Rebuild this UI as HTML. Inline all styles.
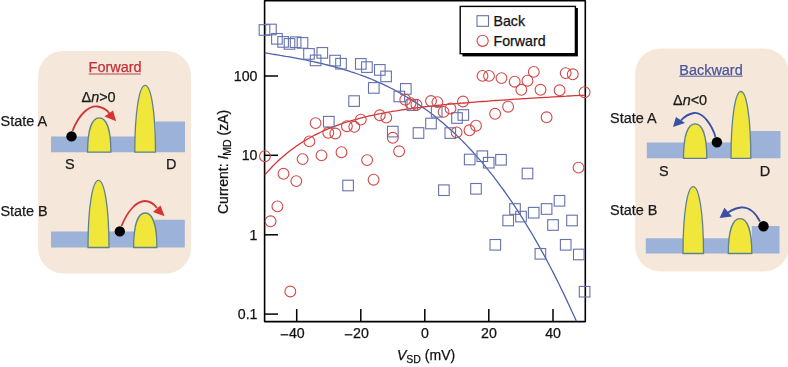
<!DOCTYPE html>
<html><head><meta charset="utf-8"><style>
html,body{margin:0;padding:0;background:#fff;width:788px;height:367px;overflow:hidden}
svg{display:block;filter:blur(0.3px)}
text{font-family:"Liberation Sans", sans-serif}
</style></head><body>
<svg width="788" height="367" viewBox="0 0 788 367">
<rect x="38.2" y="50.9" width="152.8" height="222.5" rx="25" ry="25" fill="#f5e7d9"/><rect x="635.2" y="48.5" width="153.8" height="223" rx="25" ry="25" fill="#f5e7d9"/><path d="M51,152.2 L51,136.4 L155.5,136.4 L155.5,121.4 L185,121.4 L185,152.2 Z" fill="#9cb2d8"/><path d="M87.6,152.2 C87.60,129.56 92.03,117.90 99.25,117.90 C106.47,117.90 110.90,129.56 110.9,152.2 Z" fill="#f1e63a" stroke="#5f8291" stroke-width="1.3"/><path d="M134.8,152.2 C134.80,110.78 139.46,85.40 145.15,85.40 C150.84,85.40 155.50,110.78 155.5,152.2 Z" fill="#f1e63a" stroke="#5f8291" stroke-width="1.3"/><path d="M51,247.5 L51,231.4 L154.5,231.4 L154.5,219.8 L184.8,219.8 L184.8,247.5 Z" fill="#9cb2d8"/><path d="M88.0,247.5 C88.00,205.84 92.72,180.30 98.50,180.30 C104.28,180.30 109.00,205.84 109.0,247.5 Z" fill="#f1e63a" stroke="#5f8291" stroke-width="1.3"/><path d="M133.6,247.5 C133.60,224.73 138.03,213.00 145.25,213.00 C152.47,213.00 156.90,224.73 156.9,247.5 Z" fill="#f1e63a" stroke="#5f8291" stroke-width="1.3"/><path d="M646.8,158.3 L646.8,142.6 L750.8,142.6 L750.8,131 L780.5,131 L780.5,158.3 Z" fill="#9cb2d8"/><path d="M683.5,158.3 C683.50,135.53 687.93,123.80 695.15,123.80 C702.37,123.80 706.80,135.53 706.8,158.3 Z" fill="#f1e63a" stroke="#5f8291" stroke-width="1.3"/><path d="M731.0,158.3 C731.00,116.88 735.46,91.50 740.90,91.50 C746.34,91.50 750.80,116.88 750.8,158.3 Z" fill="#f1e63a" stroke="#5f8291" stroke-width="1.3"/><path d="M645.8,253.5 L645.8,238.2 L751.8,238.2 L751.8,226 L779.5,226 L779.5,253.5 Z" fill="#9cb2d8"/><path d="M683.0,253.5 C683.00,212.02 687.61,186.60 693.25,186.60 C698.89,186.60 703.50,212.02 703.5,253.5 Z" fill="#f1e63a" stroke="#5f8291" stroke-width="1.3"/><path d="M728.3,253.5 C728.30,230.47 732.76,218.60 740.05,218.60 C747.33,218.60 751.80,230.47 751.8,253.5 Z" fill="#f1e63a" stroke="#5f8291" stroke-width="1.3"/><circle cx="71.5" cy="136.4" r="5.2" fill="#000"/><circle cx="119.8" cy="231.4" r="5.2" fill="#000"/><circle cx="716.9" cy="142.2" r="5.2" fill="#000"/><circle cx="763.5" cy="226.2" r="5.2" fill="#000"/><path d="M72.5,131 C79,114 89,105.5 97.5,106.5 C102.5,107.2 107,110 109.5,113.5" fill="none" stroke="#d43434" stroke-width="1.8"/><polygon points="104.5,116.5 113,110.5 116.2,121.2" fill="#d43434"/><path d="M121.5,226 C128,210 137,201 145,201 C150,201 154,204 157,208" fill="none" stroke="#d43434" stroke-width="1.8"/><polygon points="153,212 160.5,205.5 164.6,216.2" fill="#d43434"/><path d="M715.5,137 C712,125 703,112 694,113 C688,114 684,117 681,120.5" fill="none" stroke="#3b50a4" stroke-width="1.8"/><polygon points="676,117 685,123 673,127" fill="#3b50a4"/><path d="M760,221.5 C755,212 748,207 741,207.5 C736,208 732,210 728,212.5" fill="none" stroke="#3b50a4" stroke-width="1.8"/><polygon points="724.4,207.8 732,216.4 719.6,218" fill="#3b50a4"/>
<text x="0.6" y="126.2" font-size="14.45" fill="#1a1a1a" stroke="#1a1a1a" stroke-width="0.25" >State A</text><text x="0.4" y="216.2" font-size="14.45" fill="#1a1a1a" stroke="#1a1a1a" stroke-width="0.25" >State B</text><text x="65.0" y="169.2" font-size="14.45" fill="#1a1a1a" stroke="#1a1a1a" stroke-width="0.25" >S</text><text x="166.0" y="169.2" font-size="14.45" fill="#1a1a1a" stroke="#1a1a1a" stroke-width="0.25" >D</text><text x="88.6" y="72.0" font-size="14.45" fill="#c4303a" stroke="#c4303a" stroke-width="0.25" >Forward</text><line x1="88.6" y1="74.0" x2="140.8" y2="74.0" stroke="#b84850" stroke-width="1.1"/><text x="81.5" y="102.3" font-size="14.45" fill="#1a1a1a" stroke="#1a1a1a" stroke-width="0.25" >Δ<tspan font-style="italic">n</tspan>&gt;0</text><text x="610.0" y="122.9" font-size="14.45" fill="#1a1a1a" stroke="#1a1a1a" stroke-width="0.25" >State A</text><text x="610.0" y="214.5" font-size="14.45" fill="#1a1a1a" stroke="#1a1a1a" stroke-width="0.25" >State B</text><text x="659.0" y="175.6" font-size="14.45" fill="#1a1a1a" stroke="#1a1a1a" stroke-width="0.25" >S</text><text x="759.8" y="175.6" font-size="14.45" fill="#1a1a1a" stroke="#1a1a1a" stroke-width="0.25" >D</text><text x="679.3" y="74.6" font-size="14.45" fill="#4a559e" stroke="#4a559e" stroke-width="0.25" >Backward</text><line x1="679.3" y1="76.2" x2="742.6" y2="76.2" stroke="#5d6498" stroke-width="1.1"/><text x="673" y="104.6" font-size="14.45" fill="#1a1a1a" stroke="#1a1a1a" stroke-width="0.25" >Δ<tspan font-style="italic">n</tspan>&lt;0</text>
<path d="M264.6,0.8 L585.3,0.8 L585.3,321.6 L264.6,321.6 Z" fill="none" stroke="#000" stroke-width="1.6" stroke-linejoin="round"/><line x1="264.5" y1="76.0" x2="278" y2="76.0" stroke="#000" stroke-width="1.5"/><line x1="264.5" y1="155.3" x2="278" y2="155.3" stroke="#000" stroke-width="1.5"/><line x1="264.5" y1="234.8" x2="278" y2="234.8" stroke="#000" stroke-width="1.5"/><line x1="264.5" y1="314.1" x2="278" y2="314.1" stroke="#000" stroke-width="1.5"/><line x1="296.7" y1="321.4" x2="296.7" y2="309" stroke="#000" stroke-width="1.5"/><line x1="360.8" y1="321.4" x2="360.8" y2="309" stroke="#000" stroke-width="1.5"/><line x1="424.8" y1="321.4" x2="424.8" y2="309" stroke="#000" stroke-width="1.5"/><line x1="488.8" y1="321.4" x2="488.8" y2="309" stroke="#000" stroke-width="1.5"/><line x1="553.0" y1="321.4" x2="553.0" y2="309" stroke="#000" stroke-width="1.5"/><text x="257.5" y="80.8" font-size="14.2" text-anchor="end" fill="#111" stroke="#111" stroke-width="0.25">100</text><text x="257.5" y="160.10000000000002" font-size="14.2" text-anchor="end" fill="#111" stroke="#111" stroke-width="0.25">10</text><text x="257.5" y="239.60000000000002" font-size="14.2" text-anchor="end" fill="#111" stroke="#111" stroke-width="0.25">1</text><text x="257.5" y="318.90000000000003" font-size="14.2" text-anchor="end" fill="#111" stroke="#111" stroke-width="0.25">0.1</text><text x="296.8" y="338.4" font-size="14.2" text-anchor="middle" fill="#111" stroke="#111" stroke-width="0.25">40</text><text x="360.90000000000003" y="338.4" font-size="14.2" text-anchor="middle" fill="#111" stroke="#111" stroke-width="0.25">20</text><text x="424.90000000000003" y="338.4" font-size="14.2" text-anchor="middle" fill="#111" stroke="#111" stroke-width="0.25">0</text><text x="488.90000000000003" y="338.4" font-size="14.2" text-anchor="middle" fill="#111" stroke="#111" stroke-width="0.25">20</text><text x="553.1" y="338.4" font-size="14.2" text-anchor="middle" fill="#111" stroke="#111" stroke-width="0.25">40</text><line x1="280.59999999999997" y1="334.8" x2="288.3" y2="334.8" stroke="#111" stroke-width="1.3"/><line x1="344.7" y1="334.8" x2="352.40000000000003" y2="334.8" stroke="#111" stroke-width="1.3"/><text x="397" y="360" font-size="14" fill="#111" stroke="#111" stroke-width="0.25"><tspan font-style="italic">V</tspan><tspan font-size="10.5" dy="3">SD</tspan><tspan dy="-3"> (mV)</tspan></text><text transform="translate(228,214) rotate(-90)" font-size="14" fill="#111" stroke="#111" stroke-width="0.25">Current: <tspan font-style="italic">I</tspan><tspan font-size="10.5" dy="3">MD</tspan><tspan dy="-3"> (zA)</tspan></text><svg x="0" y="0" width="788" height="367"><clipPath id="cp"><rect x="264.5" y="0.8" width="320.8" height="320.2"/></clipPath></svg><polyline points="264.5,52.8 267.1,53.2 269.8,53.6 272.4,54.1 275.0,54.5 277.6,54.9 280.3,55.4 282.9,55.8 285.5,56.3 288.1,56.7 290.8,57.2 293.4,57.7 296.0,58.2 298.6,58.7 301.3,59.2 303.9,59.7 306.5,60.2 309.1,60.8 311.8,61.3 314.4,61.9 317.0,62.5 319.6,63.1 322.3,63.7 324.9,64.3 327.5,65.0 330.2,65.6 332.8,66.3 335.4,67.0 338.0,67.8 340.7,68.5 343.3,69.3 345.9,70.1 348.5,70.9 351.2,71.8 353.8,72.6 356.4,73.5 359.0,74.5 361.7,75.4 364.3,76.4 366.9,77.4 369.5,78.4 372.2,79.5 374.8,80.6 377.4,81.8 380.0,82.9 382.7,84.1 385.3,85.4 387.9,86.7 390.6,88.0 393.2,89.3 395.8,90.7 398.4,92.1 401.1,93.6 403.7,95.1 406.3,96.7 408.9,98.2 411.6,99.9 414.2,101.6 416.8,103.3 419.4,105.0 422.1,106.9 424.7,108.7 427.3,110.6 429.9,112.6 432.6,114.6 435.2,116.6 437.8,118.7 440.4,120.9 443.1,123.1 445.7,125.4 448.3,127.7 450.9,130.0 453.6,132.5 456.2,134.9 458.8,137.5 461.5,140.1 464.1,142.7 466.7,145.4 469.3,148.2 472.0,151.0 474.6,153.9 477.2,156.9 479.8,159.9 482.5,162.9 485.1,166.1 487.7,169.3 490.3,172.6 493.0,175.9 495.6,179.3 498.2,182.8 500.8,186.3 503.5,190.0 506.1,193.6 508.7,197.4 511.3,201.2 514.0,205.1 516.6,209.1 519.2,213.1 521.9,217.3 524.5,221.5 527.1,225.8 529.7,230.1 532.4,234.5 535.0,239.1 537.6,243.6 540.2,248.3 542.9,253.1 545.5,257.9 548.1,262.8 550.7,267.8 553.4,272.9 556.0,278.1 558.6,283.3 561.2,288.7 563.9,294.1 566.5,299.6 569.1,305.3 571.7,311.0 574.4,316.7 577.0,322.6" fill="none" stroke="#5062aa" stroke-width="1.3" clip-path="url(#cp)"/><polyline points="264.5,175.2 267.2,172.1 269.9,169.2 272.6,166.3 275.3,163.6 278.0,161.0 280.7,158.5 283.4,156.2 286.0,153.9 288.7,151.7 291.4,149.7 294.1,147.7 296.8,145.8 299.5,144.0 302.2,142.2 304.9,140.6 307.6,139.0 310.3,137.5 313.0,136.0 315.7,134.6 318.4,133.3 321.1,132.0 323.8,130.7 326.4,129.6 329.1,128.4 331.8,127.3 334.5,126.3 337.2,125.3 339.9,124.3 342.6,123.4 345.3,122.5 348.0,121.7 350.7,120.9 353.4,120.1 356.1,119.3 358.8,118.6 361.5,117.9 364.2,117.2 366.8,116.6 369.5,115.9 372.2,115.3 374.9,114.8 377.6,114.2 380.3,113.7 383.0,113.1 385.7,112.6 388.4,112.1 391.1,111.7 393.8,111.2 396.5,110.8 399.2,110.3 401.9,109.9 404.6,109.5 407.2,109.1 409.9,108.8 412.6,108.4 415.3,108.0 418.0,107.7 420.7,107.4 423.4,107.0 426.1,106.7 428.8,106.4 431.5,106.1 434.2,105.8 436.9,105.5 439.6,105.2 442.3,105.0 444.9,104.7 447.6,104.4 450.3,104.2 453.0,103.9 455.7,103.7 458.4,103.5 461.1,103.2 463.8,103.0 466.5,102.8 469.2,102.5 471.9,102.3 474.6,102.1 477.3,101.9 480.0,101.7 482.7,101.5 485.3,101.3 488.0,101.1 490.7,100.9 493.4,100.7 496.1,100.5 498.8,100.3 501.5,100.1 504.2,100.0 506.9,99.8 509.6,99.6 512.3,99.4 515.0,99.2 517.7,99.1 520.4,98.9 523.1,98.7 525.7,98.6 528.4,98.4 531.1,98.2 533.8,98.1 536.5,97.9 539.2,97.7 541.9,97.6 544.6,97.4 547.3,97.3 550.0,97.1 552.7,96.9 555.4,96.8 558.1,96.6 560.8,96.5 563.5,96.3 566.1,96.2 568.8,96.0 571.5,95.9 574.2,95.7 576.9,95.6 579.6,95.4 582.3,95.3 585.0,95.1" fill="none" stroke="#d43434" stroke-width="1.3" clip-path="url(#cp)"/><rect x="259.2" y="24.7" width="10.6" height="10.6" fill="none" stroke="#6672ac" stroke-width="1.1"/><rect x="265.6" y="24.2" width="10.6" height="10.6" fill="none" stroke="#6672ac" stroke-width="1.1"/><rect x="271.6" y="33.5" width="10.6" height="10.6" fill="none" stroke="#6672ac" stroke-width="1.1"/><rect x="277.8" y="36.6" width="10.6" height="10.6" fill="none" stroke="#6672ac" stroke-width="1.1"/><rect x="284.2" y="38.6" width="10.6" height="10.6" fill="none" stroke="#6672ac" stroke-width="1.1"/><rect x="290.3" y="36.9" width="10.6" height="10.6" fill="none" stroke="#6672ac" stroke-width="1.1"/><rect x="297.2" y="37.6" width="10.6" height="10.6" fill="none" stroke="#6672ac" stroke-width="1.1"/><rect x="303.7" y="48.6" width="10.6" height="10.6" fill="none" stroke="#6672ac" stroke-width="1.1"/><rect x="317.0" y="47.6" width="10.6" height="10.6" fill="none" stroke="#6672ac" stroke-width="1.1"/><rect x="310.3" y="55.1" width="10.6" height="10.6" fill="none" stroke="#6672ac" stroke-width="1.1"/><rect x="329.8" y="55.3" width="10.6" height="10.6" fill="none" stroke="#6672ac" stroke-width="1.1"/><rect x="335.7" y="58.4" width="10.6" height="10.6" fill="none" stroke="#6672ac" stroke-width="1.1"/><rect x="355.5" y="58.6" width="10.6" height="10.6" fill="none" stroke="#6672ac" stroke-width="1.1"/><rect x="361.6" y="61.8" width="10.6" height="10.6" fill="none" stroke="#6672ac" stroke-width="1.1"/><rect x="374.5" y="64.6" width="10.6" height="10.6" fill="none" stroke="#6672ac" stroke-width="1.1"/><rect x="380.8" y="71.1" width="10.6" height="10.6" fill="none" stroke="#6672ac" stroke-width="1.1"/><rect x="368.5" y="82.6" width="10.6" height="10.6" fill="none" stroke="#6672ac" stroke-width="1.1"/><rect x="348.8" y="95.8" width="10.6" height="10.6" fill="none" stroke="#6672ac" stroke-width="1.1"/><rect x="400.5" y="83.6" width="10.6" height="10.6" fill="none" stroke="#6672ac" stroke-width="1.1"/><rect x="394.0" y="91.2" width="10.6" height="10.6" fill="none" stroke="#6672ac" stroke-width="1.1"/><rect x="407.0" y="99.8" width="10.6" height="10.6" fill="none" stroke="#6672ac" stroke-width="1.1"/><rect x="425.7" y="118.2" width="10.6" height="10.6" fill="none" stroke="#6672ac" stroke-width="1.1"/><rect x="431.4" y="106.5" width="10.6" height="10.6" fill="none" stroke="#6672ac" stroke-width="1.1"/><rect x="451.7" y="112.7" width="10.6" height="10.6" fill="none" stroke="#6672ac" stroke-width="1.1"/><rect x="458.0" y="109.7" width="10.6" height="10.6" fill="none" stroke="#6672ac" stroke-width="1.1"/><rect x="445.0" y="127.8" width="10.6" height="10.6" fill="none" stroke="#6672ac" stroke-width="1.1"/><rect x="464.4" y="154.2" width="10.6" height="10.6" fill="none" stroke="#6672ac" stroke-width="1.1"/><rect x="477.0" y="150.9" width="10.6" height="10.6" fill="none" stroke="#6672ac" stroke-width="1.1"/><rect x="483.4" y="157.4" width="10.6" height="10.6" fill="none" stroke="#6672ac" stroke-width="1.1"/><rect x="495.7" y="154.5" width="10.6" height="10.6" fill="none" stroke="#6672ac" stroke-width="1.1"/><rect x="438.6" y="184.9" width="10.6" height="10.6" fill="none" stroke="#6672ac" stroke-width="1.1"/><rect x="470.7" y="183.5" width="10.6" height="10.6" fill="none" stroke="#6672ac" stroke-width="1.1"/><rect x="387.5" y="126.3" width="10.6" height="10.6" fill="none" stroke="#6672ac" stroke-width="1.1"/><rect x="413.2" y="127.7" width="10.6" height="10.6" fill="none" stroke="#6672ac" stroke-width="1.1"/><rect x="342.8" y="180.2" width="10.6" height="10.6" fill="none" stroke="#6672ac" stroke-width="1.1"/><rect x="323.5" y="116.4" width="10.6" height="10.6" fill="none" stroke="#6672ac" stroke-width="1.1"/><rect x="522.2" y="168.2" width="10.6" height="10.6" fill="none" stroke="#6672ac" stroke-width="1.1"/><rect x="490.0" y="239.5" width="10.6" height="10.6" fill="none" stroke="#6672ac" stroke-width="1.1"/><rect x="509.7" y="203.7" width="10.6" height="10.6" fill="none" stroke="#6672ac" stroke-width="1.1"/><rect x="502.9" y="215.2" width="10.6" height="10.6" fill="none" stroke="#6672ac" stroke-width="1.1"/><rect x="515.7" y="211.3" width="10.6" height="10.6" fill="none" stroke="#6672ac" stroke-width="1.1"/><rect x="528.4" y="207.4" width="10.6" height="10.6" fill="none" stroke="#6672ac" stroke-width="1.1"/><rect x="541.3" y="203.7" width="10.6" height="10.6" fill="none" stroke="#6672ac" stroke-width="1.1"/><rect x="554.2" y="195.5" width="10.6" height="10.6" fill="none" stroke="#6672ac" stroke-width="1.1"/><rect x="547.7" y="219.7" width="10.6" height="10.6" fill="none" stroke="#6672ac" stroke-width="1.1"/><rect x="566.7" y="215.2" width="10.6" height="10.6" fill="none" stroke="#6672ac" stroke-width="1.1"/><rect x="560.4" y="239.5" width="10.6" height="10.6" fill="none" stroke="#6672ac" stroke-width="1.1"/><rect x="573.5" y="249.2" width="10.6" height="10.6" fill="none" stroke="#6672ac" stroke-width="1.1"/><rect x="535.1" y="248.5" width="10.6" height="10.6" fill="none" stroke="#6672ac" stroke-width="1.1"/><rect x="579.3" y="286.4" width="10.6" height="10.6" fill="none" stroke="#6672ac" stroke-width="1.1"/><circle cx="405.3" cy="99.7" r="5.4" fill="none" stroke="#d24848" stroke-width="1.1"/><circle cx="410.6" cy="103.2" r="5.4" fill="none" stroke="#d24848" stroke-width="1.1"/><circle cx="416.4" cy="104.8" r="5.4" fill="none" stroke="#d24848" stroke-width="1.1"/><circle cx="360.8" cy="119.6" r="5.4" fill="none" stroke="#d24848" stroke-width="1.1"/><circle cx="379.8" cy="115.3" r="5.4" fill="none" stroke="#d24848" stroke-width="1.1"/><circle cx="386.3" cy="117.6" r="5.4" fill="none" stroke="#d24848" stroke-width="1.1"/><circle cx="346.9" cy="126.2" r="5.4" fill="none" stroke="#d24848" stroke-width="1.1"/><circle cx="354.3" cy="126.8" r="5.4" fill="none" stroke="#d24848" stroke-width="1.1"/><circle cx="431" cy="101" r="5.4" fill="none" stroke="#d24848" stroke-width="1.1"/><circle cx="437.4" cy="102.1" r="5.4" fill="none" stroke="#d24848" stroke-width="1.1"/><circle cx="443.6" cy="111.9" r="5.4" fill="none" stroke="#d24848" stroke-width="1.1"/><circle cx="450.5" cy="108.5" r="5.4" fill="none" stroke="#d24848" stroke-width="1.1"/><circle cx="463" cy="101.5" r="5.4" fill="none" stroke="#d24848" stroke-width="1.1"/><circle cx="482.5" cy="75.9" r="5.4" fill="none" stroke="#d24848" stroke-width="1.1"/><circle cx="489" cy="75.9" r="5.4" fill="none" stroke="#d24848" stroke-width="1.1"/><circle cx="501.5" cy="78.1" r="5.4" fill="none" stroke="#d24848" stroke-width="1.1"/><circle cx="495.1" cy="113.8" r="5.4" fill="none" stroke="#d24848" stroke-width="1.1"/><circle cx="476" cy="125.7" r="5.4" fill="none" stroke="#d24848" stroke-width="1.1"/><circle cx="469.5" cy="130.3" r="5.4" fill="none" stroke="#d24848" stroke-width="1.1"/><circle cx="456.6" cy="132.4" r="5.4" fill="none" stroke="#d24848" stroke-width="1.1"/><circle cx="514.7" cy="81.7" r="5.4" fill="none" stroke="#d24848" stroke-width="1.1"/><circle cx="527.5" cy="80.7" r="5.4" fill="none" stroke="#d24848" stroke-width="1.1"/><circle cx="533.8" cy="71.9" r="5.4" fill="none" stroke="#d24848" stroke-width="1.1"/><circle cx="521.3" cy="89.8" r="5.4" fill="none" stroke="#d24848" stroke-width="1.1"/><circle cx="540.5" cy="89.8" r="5.4" fill="none" stroke="#d24848" stroke-width="1.1"/><circle cx="559.6" cy="90.3" r="5.4" fill="none" stroke="#d24848" stroke-width="1.1"/><circle cx="565.7" cy="73.1" r="5.4" fill="none" stroke="#d24848" stroke-width="1.1"/><circle cx="572.8" cy="74.3" r="5.4" fill="none" stroke="#d24848" stroke-width="1.1"/><circle cx="584.6" cy="92.2" r="5.4" fill="none" stroke="#d24848" stroke-width="1.1"/><circle cx="508.1" cy="106.7" r="5.4" fill="none" stroke="#d24848" stroke-width="1.1"/><circle cx="546.6" cy="117.3" r="5.4" fill="none" stroke="#d24848" stroke-width="1.1"/><circle cx="264.9" cy="156.2" r="5.4" fill="none" stroke="#d24848" stroke-width="1.1"/><circle cx="315.6" cy="123.1" r="5.4" fill="none" stroke="#d24848" stroke-width="1.1"/><circle cx="309.4" cy="141.4" r="5.4" fill="none" stroke="#d24848" stroke-width="1.1"/><circle cx="328.3" cy="132.8" r="5.4" fill="none" stroke="#d24848" stroke-width="1.1"/><circle cx="335.3" cy="133.5" r="5.4" fill="none" stroke="#d24848" stroke-width="1.1"/><circle cx="302.6" cy="159.1" r="5.4" fill="none" stroke="#d24848" stroke-width="1.1"/><circle cx="321.5" cy="155.4" r="5.4" fill="none" stroke="#d24848" stroke-width="1.1"/><circle cx="341.5" cy="152.2" r="5.4" fill="none" stroke="#d24848" stroke-width="1.1"/><circle cx="283.5" cy="173.8" r="5.4" fill="none" stroke="#d24848" stroke-width="1.1"/><circle cx="392.8" cy="137.8" r="5.4" fill="none" stroke="#d24848" stroke-width="1.1"/><circle cx="399.1" cy="151.3" r="5.4" fill="none" stroke="#d24848" stroke-width="1.1"/><circle cx="367.1" cy="160.1" r="5.4" fill="none" stroke="#d24848" stroke-width="1.1"/><circle cx="373.6" cy="179.7" r="5.4" fill="none" stroke="#d24848" stroke-width="1.1"/><circle cx="296.3" cy="181.1" r="5.4" fill="none" stroke="#d24848" stroke-width="1.1"/><circle cx="277.4" cy="206.4" r="5.4" fill="none" stroke="#d24848" stroke-width="1.1"/><circle cx="270.6" cy="221.3" r="5.4" fill="none" stroke="#d24848" stroke-width="1.1"/><circle cx="578.5" cy="167.6" r="5.4" fill="none" stroke="#d24848" stroke-width="1.1"/><circle cx="290.3" cy="291.5" r="5.4" fill="none" stroke="#d24848" stroke-width="1.1"/><rect x="462.4" y="8.0" width="115.5" height="48.4" fill="#000"/><rect x="460.2" y="6.4" width="115.2" height="47.3" fill="#fff" stroke="#000" stroke-width="1.4"/><rect x="477" y="15.7" width="11.5" height="10.6" fill="none" stroke="#6672ac" stroke-width="1.1"/><circle cx="482.6" cy="40.8" r="5.6" fill="none" stroke="#d24848" stroke-width="1.1"/><text x="493.5" y="26" font-size="14.2" fill="#111" stroke="#111" stroke-width="0.25">Back</text><text x="493.5" y="46.3" font-size="14.2" fill="#111" stroke="#111" stroke-width="0.25">Forward</text>
</svg>
</body></html>
